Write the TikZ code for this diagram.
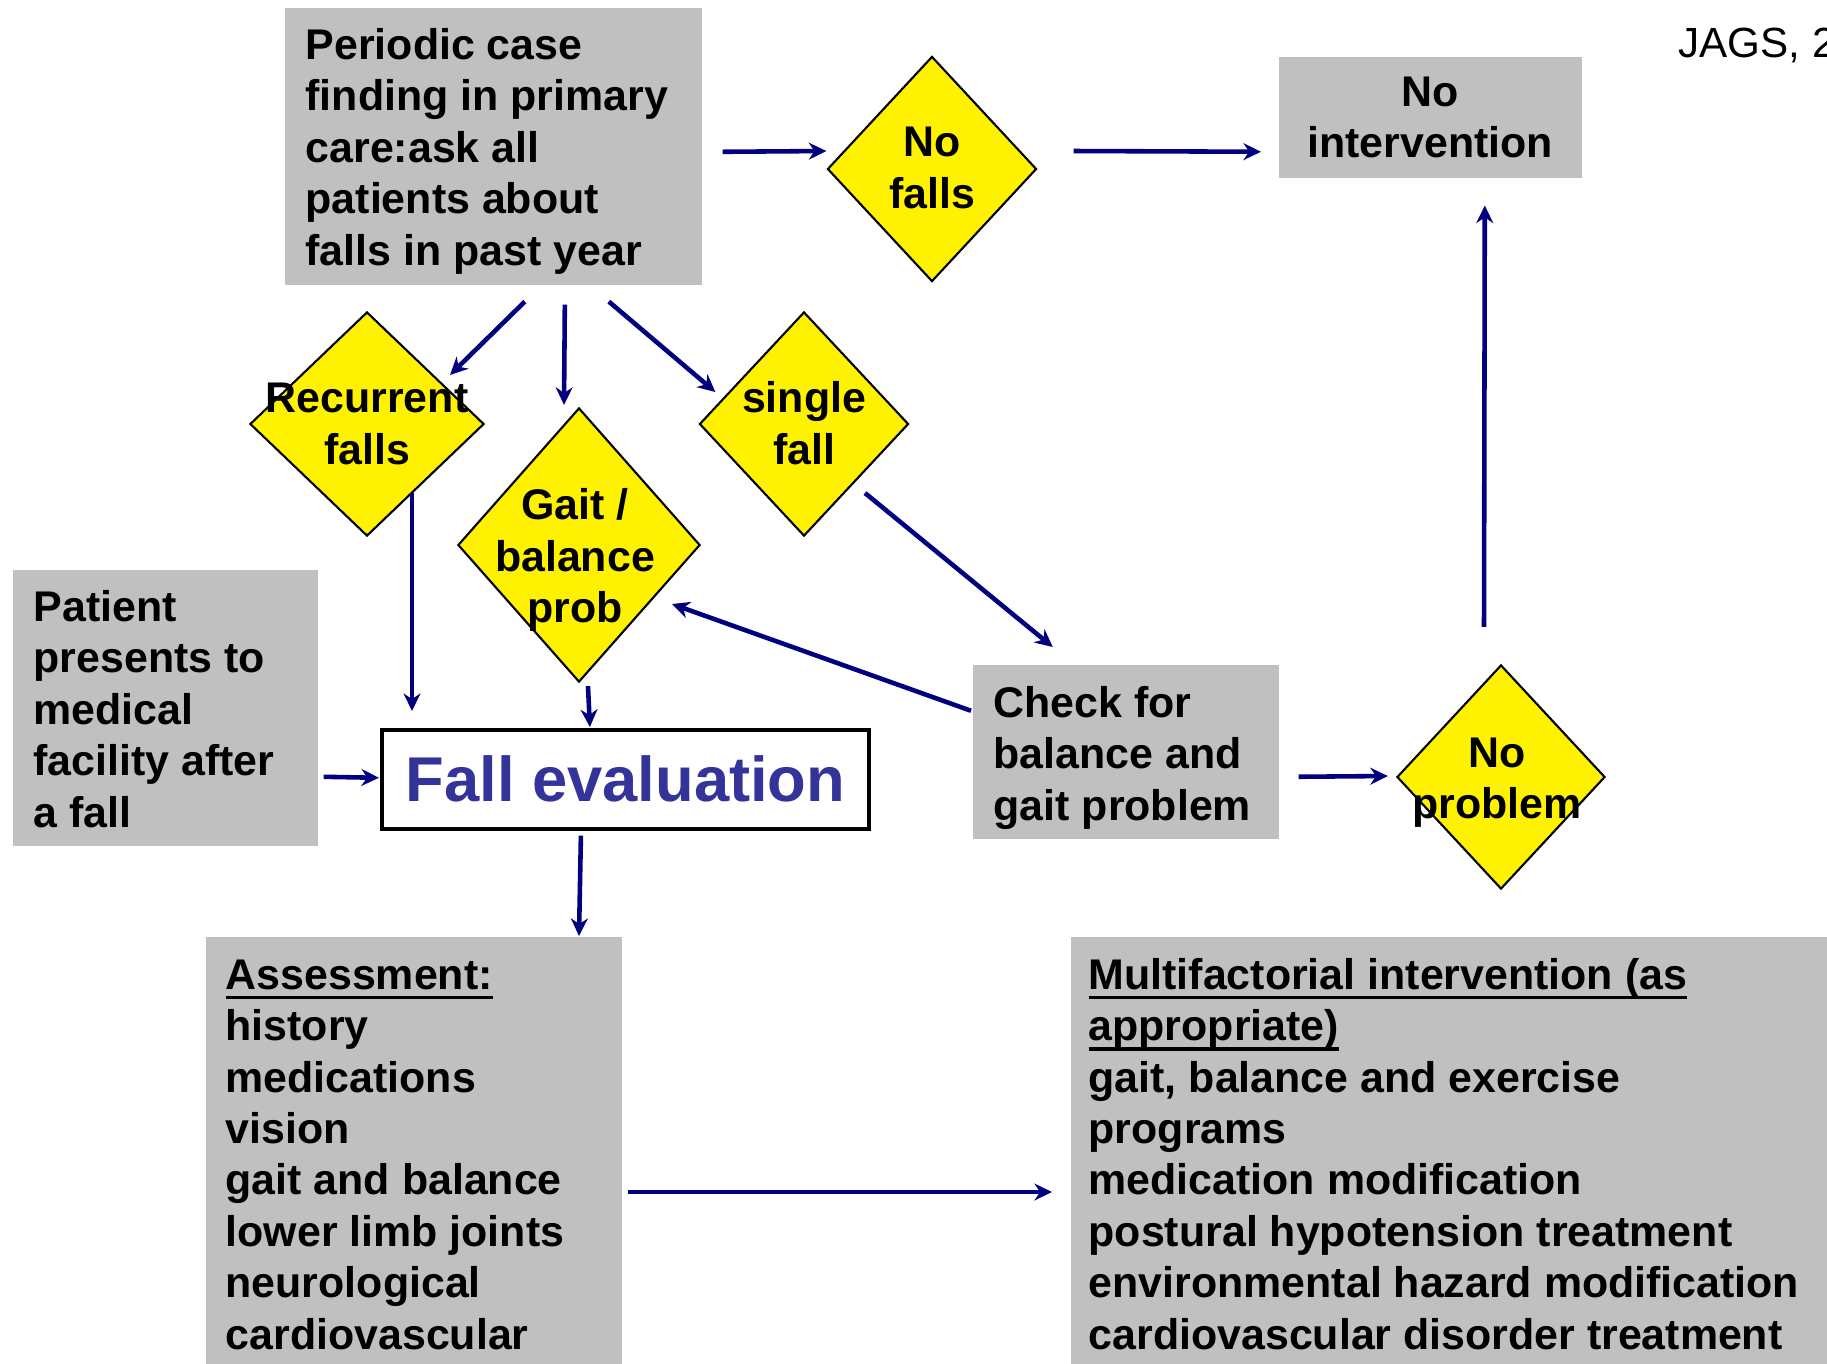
\documentclass[tikz,border=0pt]{standalone}
\usepackage{fontspec}
\setmainfont{Liberation Sans}
\usetikzlibrary{shapes.geometric,arrows.meta,calc}
\definecolor{boxgray}{RGB}{192,192,192}
\definecolor{arrblue}{RGB}{0,0,128}
\definecolor{evalblue}{RGB}{51,51,153}
\newcommand\myul[1]{\setbox0\hbox{#1}\rlap{\rule[-2.8pt]{\wd0}{1.1pt}}\box0}
\begin{document}
\begin{tikzpicture}[x=0.01cm,y=-0.01cm,
 graybox/.style={draw=none,fill=boxgray,inner sep=0,anchor=north west},
 dia/.style={shape=diamond,draw=black,line width=0.6pt,fill=yellow,inner sep=0},
 txt/.style={inner sep=0,font=\fontsize{12.2}{14.6}\selectfont\bfseries,align=left,anchor=base west},
 ctxt/.style={inner sep=0,font=\fontsize{12.2}{14.6}\selectfont\bfseries,align=center},
 arr/.style={draw=arrblue,line width=1.3pt,-{Stealth[length=5pt,width=4.8pt]}}]

\path[use as bounding box,fill=white] (0,0) rectangle (1827,1363);

% boxes (text nodes are placed by the baseline of their last line)
\node[graybox,minimum width=4.17cm,minimum height=2.77cm] (periodic) at (284,7) {};
\node[txt] (periodicT) at (305,265) {Periodic case\\finding in primary\\care:ask all\\patients about\\falls in past year};

\node[graybox,minimum width=3.03cm,minimum height=1.21cm] (nointerv) at (1278,56) {};
\node[ctxt] (nointervT) at (nointerv.center) {No\\intervention};

\node[graybox,minimum width=3.05cm,minimum height=2.76cm] (patient) at (12,569) {};
\node[txt] (patientT) at (33,827) {Patient\\presents to\\medical\\facility after\\a fall};

\node[graybox,minimum width=3.06cm,minimum height=1.74cm] (check) at (972,664) {};
\node[txt] (checkT) at (993,820) {Check for\\balance and\\gait problem};

\node[draw=black,line width=1pt,fill=white,inner sep=0,anchor=north west,minimum width=4.87cm,minimum height=0.99cm] (falleval) at (380,728) {};
\node[inner sep=0,font=\fontsize{18}{21}\selectfont\bfseries,text=evalblue] (fallevalT) at (falleval.center) {Fall evaluation};

\node[graybox,minimum width=4.16cm,minimum height=4.27cm] (assess) at (205,936) {};
\node[txt] (assessT) at (225,1349) {\myul{Assessment:}\\history\\medications\\vision\\gait and balance\\lower limb joints\\neurological\\cardiovascular};

\node[graybox,minimum width=7.57cm,minimum height=4.27cm] (multi) at (1070,936) {};
\node[txt] (multiT) at (1088,1349) {\myul{Multifactorial intervention (as}\\\myul{appropriate)}\\gait, balance and exercise\\programs\\medication modification\\postural hypotension treatment\\environmental hazard modification\\cardiovascular disorder treatment};

% diamonds
\node[dia,minimum width=2.09cm,minimum height=2.25cm] (nofalls) at (932,169) {};
\node[ctxt] (nofallsT) at (932,168) {No\\falls};

\node[dia,minimum width=2.34cm,minimum height=2.24cm] (rec) at (367,424) {};
\node[ctxt] (recT) at (367,424) {Recurrent\\falls};

\node[dia,minimum width=2.42cm,minimum height=2.74cm] (gait) at (579,545) {};
\node[ctxt] (gaitT) at (575,560) {Gait /\\balance\\prob};

\node[dia,minimum width=2.09cm,minimum height=2.24cm] (single) at (804,424) {};
\node[ctxt] (singleT) at (804,423) {single\\fall};

\node[dia,minimum width=2.08cm,minimum height=2.24cm] (noproblem) at (1501,777) {};
\node[ctxt] (noproblemT) at (1497,783) {No\\problem};

\node[inner sep=0,anchor=base west,font=\fontsize{12}{14}\selectfont] (jags) at (1678,57) {JAGS, 2};

% connectors
\draw[arr] ($(periodic.east)+(20,5.5)$) -- ($(nofalls.west)+(0,-18)$);
\draw[arr] ($(nofalls.east)+(36,-18)$) -- ($(nointerv.west)+(-17,34.5)$);
\draw[arr] ($(noproblem.north)+(-17,-37)$) -- ($(nointerv.south)+(54.5,27)$);
\draw[arr] ($(periodic.south)+(31.5,16)$) -- ($(rec.center)+(83,-49)$);
\draw[arr] ($(periodic.south)+(71.5,19)$) -- ($(gait.north)+(-15,-2)$);
\draw[arr] ($(periodic.south)+(115.5,16)$) -- ($(single.west)+(17,-32)$);
\draw[arr] ($(rec.center)+(45,69)$) -- ($(falleval.north west)+(32,-17)$);
\draw[arr] ($(gait.south)+(9,3)$) -- ($(falleval.north)+(-35.5,-1)$);
\draw[arr] ($(single.center)+(61,69)$) -- ($(check.north)+(-73,-17)$);
\draw[arr] ($(check.west)+(-1,-41)$) -- ($(gait.center)+(93,59)$);
\draw[arr] ($(check.east)+(19,25)$) -- ($(noproblem.west)+(-8,-1)$);
\draw[arr] ($(patient.east)+(5,69)$) -- ($(falleval.west)+(-1,-1.5)$);
\draw[arr] ($(falleval.south)+(-44.5,5)$) -- ($(assess.north west)+(374,0)$);
\draw[arr] ($(assess.north east)+(5,256)$) -- ($(multi.north west)+(-18,256)$);
\end{tikzpicture}
\end{document}
